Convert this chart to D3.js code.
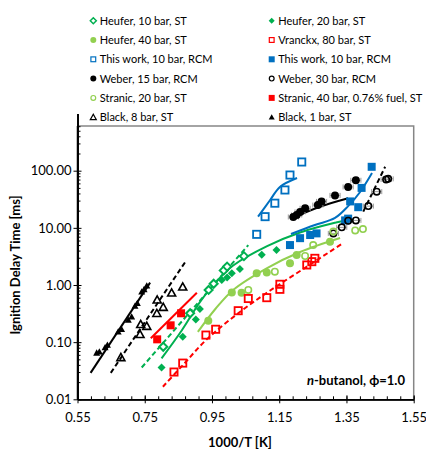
<!DOCTYPE html>
<html><head><meta charset="utf-8">
<script src="https://cdn.jsdelivr.net/npm/d3@7"></script>
<style>
body{margin:0;background:#fff}
text{font-family:Lato,"Open Sans","DejaVu Sans",sans-serif;fill:#000}
</style>
</head><body>
<svg id="c" width="426" height="453"></svg>
<script>
// ---------- DATA (x = 1000/T [1/K], y = ignition delay [ms]) ----------
const heufer10 = [[0.805,0.083],[0.885,0.32],[0.94,0.82],[0.955,1.05],[0.985,1.8],[0.995,2.1],[1.045,3.2]];
const heufer20 = [[0.80,0.036],[0.863,0.124],[0.902,0.25],[0.914,0.38],[0.979,1.22],[0.995,1.35],[1.009,1.6],[1.033,1.9],[1.098,3.4],[1.142,4.1]];
const heufer40 = [[0.939,0.237],[1.009,0.74],[1.038,0.73],[1.083,1.6],[1.113,1.66],[1.182,2.4],[1.202,3.35],[1.301,5.7]];
const vranckx80 = [[0.837,0.030],[0.863,0.043],[0.932,0.133],[0.961,0.168],[1.028,0.355],[1.058,0.58],[1.113,0.60],[1.152,0.84],[1.152,1.03],[1.232,2.24],[1.247,2.56],[1.256,2.93]];
const thisWorkOpen = [[1.083,7.7],[1.108,15.7],[1.137,27],[1.167,46],[1.182,84],[1.217,142]];
const thisWorkFilled = [[1.182,5.0],[1.212,6.6],[1.242,7.5],[1.261,8.0],[1.346,13.5],[1.355,14.5],[1.361,29],[1.385,23],[1.395,50],[1.425,117]];
const weber15 = [[1.192,15.5],[1.202,16.8],[1.212,19],[1.227,22],[1.265,25],[1.276,29],[1.316,37],[1.355,52],[1.378,68]];
const weber30 = [[1.311,8.0],[1.336,10.2],[1.355,13.3],[1.378,13.5],[1.415,24],[1.44,43],[1.468,70],[1.474,72]];
const stranic20 = [[1.058,0.82],[1.137,1.71],[1.227,3.22],[1.251,5.0],[1.311,8.6],[1.376,9.0],[1.399,9.5]];
const stranic40 = [[0.787,0.112],[0.827,0.197],[0.858,0.32]];
const black8 = [[0.679,0.054],[0.736,0.137],[0.738,0.205],[0.756,0.19],[0.786,0.32],[0.787,0.55],[0.805,0.41],[0.83,0.73],[0.863,0.93]];
const black1 = [[0.607,0.065],[0.615,0.068],[0.632,0.081],[0.639,0.089],[0.671,0.152],[0.681,0.168],[0.701,0.244],[0.711,0.279],[0.721,0.43],[0.728,0.478],[0.741,0.76],[0.748,0.84],[0.756,0.97]];
const weberXErr = 0.015;

// model / fit lines
const black1Line = [[0.589,0.029],[0.766,1.10]];
const black8Line = [[0.649,0.029],[0.873,2.66]];
const stranic40Line = [[0.768,0.117],[0.905,0.73]];
const vranckxLine = [[0.804,0.0166],[0.864,0.040],[0.935,0.113],[1.033,0.337],[1.123,0.80],[1.227,2.0],[1.34,5.4]];
const heufer10Line = [[0.741,0.036],[1.058,5.0]];
const heufer20Line = [[0.80,0.052],[0.86,0.16],[0.914,0.50],[0.96,1.1],[1.013,2.2],[1.114,4.8],[1.212,8.3],[1.319,12.4],[1.34,13.2]];
const heufer40Line = [[0.908,0.151],[0.96,0.38],[1.013,0.82],[1.114,1.98],[1.212,3.78],[1.331,6.64]];
const thisWorkOpenLine = [[1.087,15.7],[1.123,30.7],[1.152,52],[1.203,74.5]];
const thisWorkFilledLine = [[1.185,7.8],[1.256,11.2],[1.316,14.9],[1.355,24],[1.39,42],[1.426,91]];
const weber15Line = [[1.187,14.7],[1.271,23.4],[1.355,32.9]];
const weber30Line = [[1.40,19.2],[1.465,117]];

const xTicks = [0.55,0.75,0.95,1.15,1.35,1.55];
const yTicks = [0.01,0.1,1,10,100];
const xTitle = "1000/T [K]";
const yTitle = "Ignition Delay Time [ms]";

const legendItems = [
  {label:"Heufer, 10 bar, ST", type:"diamondOpen", color:"#00B050"},
  {label:"Heufer, 20 bar, ST", type:"diamondFilled", color:"#00B050"},
  {label:"Heufer, 40 bar, ST", type:"circleFilled", color:"#92D050"},
  {label:"Vranckx, 80 bar, ST", type:"squareOpen", color:"#FF0000"},
  {label:"This work, 10 bar, RCM", type:"squareOpen", color:"#0070C0"},
  {label:"This work, 10 bar, RCM", type:"squareFilled", color:"#0070C0"},
  {label:"Weber, 15 bar, RCM", type:"circleFilled", color:"#000000"},
  {label:"Weber, 30 bar, RCM", type:"circleOpen", color:"#000000"},
  {label:"Stranic, 20 bar, ST", type:"circleOpen", color:"#92D050"},
  {label:"Stranic, 40 bar, 0.76% fuel, ST", type:"squareFilled", color:"#FF0000"},
  {label:"Black, 8 bar, ST", type:"triangleOpen", color:"#000000"},
  {label:"Black, 1 bar, ST", type:"triangleFilled", color:"#000000"}
];

// ---------- LAYOUT ----------
const L = 77.5, R = 413.7, B = 399.3, T = 126;
const decade = 57.15;
const x = d3.scaleLinear().domain([0.55,1.55]).range([L,R]);
const y = d3.scaleLog().domain([0.01,1000]).range([B, B-5*decade]);

const svg = d3.select("#c");
svg.append("defs").append("clipPath").attr("id","clip")
  .append("rect").attr("x",L).attr("y",T).attr("width",R-L).attr("height",B-T);

// frame (top/right gray)
svg.append("path").attr("d",`M${L},${T}H${R}V${B}`).attr("fill","none").attr("stroke","#868686").attr("stroke-width",1.5);

const plot = svg.append("g").attr("clip-path","url(#clip)");
const line = d3.line().x(d=>x(d[0])).y(d=>y(d[1])).curve(d3.curveCatmullRom.alpha(0.5));

function drawLine(data,color,dashed){
  plot.append("path").datum(data).attr("d",line).attr("fill","none")
    .attr("stroke",color).attr("stroke-width",2)
    .attr("stroke-dasharray",dashed?"5,3":null);
}

function marker(g,type,cx,cy,s,color){
  const h=s/2;
  switch(type){
    case "diamondOpen":
      g.append("path").attr("d",`M${cx},${cy-h}L${cx+h},${cy}L${cx},${cy+h}L${cx-h},${cy}Z`)
        .attr("fill","#fff").attr("stroke",color).attr("stroke-width",s*0.25);break;
    case "diamondFilled":
      g.append("path").attr("d",`M${cx},${cy-h}L${cx+h},${cy}L${cx},${cy+h}L${cx-h},${cy}Z`)
        .attr("fill",color);break;
    case "circleFilled":
      g.append("circle").attr("cx",cx).attr("cy",cy).attr("r",h).attr("fill",color);break;
    case "circleOpen":
      g.append("circle").attr("cx",cx).attr("cy",cy).attr("r",h-s*0.1).attr("fill","none")
        .attr("stroke",color).attr("stroke-width",s*0.2);break;
    case "squareOpen":
      g.append("rect").attr("x",cx-h+s*0.1).attr("y",cy-h+s*0.1).attr("width",s*0.8).attr("height",s*0.8)
        .attr("fill","none").attr("stroke",color).attr("stroke-width",s*0.2);break;
    case "squareFilled":
      g.append("rect").attr("x",cx-h).attr("y",cy-h).attr("width",s).attr("height",s).attr("fill",color);break;
    case "triangleOpen":
      g.append("path").attr("d",`M${cx},${cy-h}L${cx+h},${cy+h*0.8}L${cx-h},${cy+h*0.8}Z`)
        .attr("fill","none").attr("stroke",color).attr("stroke-width",s*0.2);break;
    case "triangleFilled":
      g.append("path").attr("d",`M${cx},${cy-h}L${cx+h},${cy+h*0.8}L${cx-h},${cy+h*0.8}Z`)
        .attr("fill",color);break;
  }
}
function drawPoints(data,type,color,size){
  data.forEach(d=>marker(plot,type,x(d[0]),y(d[1]),size,color));
}
function drawXErr(data){
  data.forEach(d=>{
    const x0=x(d[0]-weberXErr), x1=x(d[0]+weberXErr), yy=y(d[1]);
    plot.append("path").attr("d",`M${x0},${yy}H${x1}M${x0},${yy-2.5}V${yy+2.5}M${x1},${yy-2.5}V${yy+2.5}`)
      .attr("stroke","#999").attr("stroke-width",1).attr("fill","none");
  });
}

// lines
drawLine(black1Line,"#000",false);
drawLine(black8Line,"#000",true);
drawLine(stranic40Line,"#FF0000",false);
drawLine(vranckxLine,"#FF0000",true);
drawLine(heufer10Line,"#00B050",true);
drawLine(heufer20Line,"#00B050",false);
drawLine(heufer40Line,"#92D050",false);
drawLine(thisWorkOpenLine,"#0070C0",false);
drawLine(thisWorkFilledLine,"#0070C0",false);
drawLine(weber15Line,"#000",false);
drawLine(weber30Line,"#000",true);

// points
drawXErr(weber15); drawXErr(weber30);
drawPoints(heufer10,"diamondOpen","#00B050",8);
drawPoints(heufer20,"diamondFilled","#00B050",8);
drawPoints(heufer40,"circleFilled","#92D050",8);
drawPoints(vranckx80,"squareOpen","#FF0000",9);
drawPoints(thisWorkOpen,"squareOpen","#0070C0",9);
drawPoints(thisWorkFilled,"squareFilled","#0070C0",8);
drawPoints(weber15,"circleFilled","#000",8);
drawPoints(weber30,"circleOpen","#000",8);
drawPoints(stranic20,"circleOpen","#92D050",8);
drawPoints(stranic40,"squareFilled","#FF0000",8);
drawPoints(black8,"triangleOpen","#000",8);
drawPoints(black1,"triangleFilled","#000",7);

// axes
const minorY = [];
yTicks.forEach(t=>{ if(t<1000) for(let k=2;k<=9;k++){ minorY.push(t*k); } });
const minorX = d3.range(0.55,1.5501,0.04).map(v=>+v.toFixed(2));

const ax = svg.append("g").attr("class","axes");
ax.append("g").attr("transform",`translate(${L},0)`)
  .call(d3.axisLeft(y).tickValues(yTicks).tickFormat(d3.format(".2f")).tickSizeInner(4).tickSizeOuter(0).tickPadding(2));
ax.append("g").attr("transform",`translate(${L},0)`)
  .call(d3.axisRight(y).tickValues(yTicks).tickFormat("").tickSizeInner(4).tickSizeOuter(0));
ax.append("g").attr("transform",`translate(${L},0)`)
  .call(d3.axisRight(y).tickValues(minorY.filter(v=>y(v)>=T)).tickFormat("").tickSizeInner(3).tickSizeOuter(0));
ax.append("g").attr("transform",`translate(0,${B})`)
  .call(d3.axisBottom(x).tickValues(xTicks).tickFormat(d3.format(".2f")).tickSizeInner(4).tickSizeOuter(0).tickPadding(9));
ax.append("g").attr("transform",`translate(0,${B})`)
  .call(d3.axisTop(x).tickValues(xTicks).tickFormat("").tickSizeInner(4).tickSizeOuter(0));
ax.append("g").attr("transform",`translate(0,${B})`)
  .call(d3.axisTop(x).tickValues(minorX).tickFormat("").tickSizeInner(3).tickSizeOuter(0));
ax.selectAll(".domain").attr("stroke","#000").attr("stroke-width",1.5);
ax.selectAll(".tick line").attr("stroke","#000").attr("stroke-width",1);
ax.selectAll(".tick text").attr("font-family","Lato, 'Open Sans', sans-serif").attr("font-size",13).attr("fill","#333");
ax.append("line").attr("x1",L).attr("x2",L).attr("y1",T).attr("y2",B).attr("stroke","#000").attr("stroke-width",1.5);

// titles
svg.append("text").attr("x",240).attr("y",447).attr("text-anchor","middle")
  .attr("font-size",13).attr("font-weight","bold").text(xTitle);
svg.append("text").attr("transform","translate(20,265) rotate(-90)").attr("text-anchor","middle")
  .attr("font-size",13).attr("font-weight","bold").text(yTitle);

// annotation
const ann = svg.append("text").attr("x",405).attr("y",385).attr("text-anchor","end")
  .attr("font-size",13).attr("font-weight","bold");
ann.append("tspan").attr("font-style","italic").text("n");
ann.append("tspan").text("-butanol,  ϕ=1.0");

// legend
const leg = svg.append("g");
const colX = [93.3, 271.7], row0 = 20.7, rowStep = 19.3;
legendItems.forEach((it,i)=>{
  const cx = colX[i%2], cy = row0 + Math.floor(i/2)*rowStep;
  marker(leg,it.type,cx,cy,6,it.color);
  leg.append("text").attr("x",cx+6.5).attr("y",cy+4).attr("font-size",11).text(it.label);
});
</script>
</body></html>
